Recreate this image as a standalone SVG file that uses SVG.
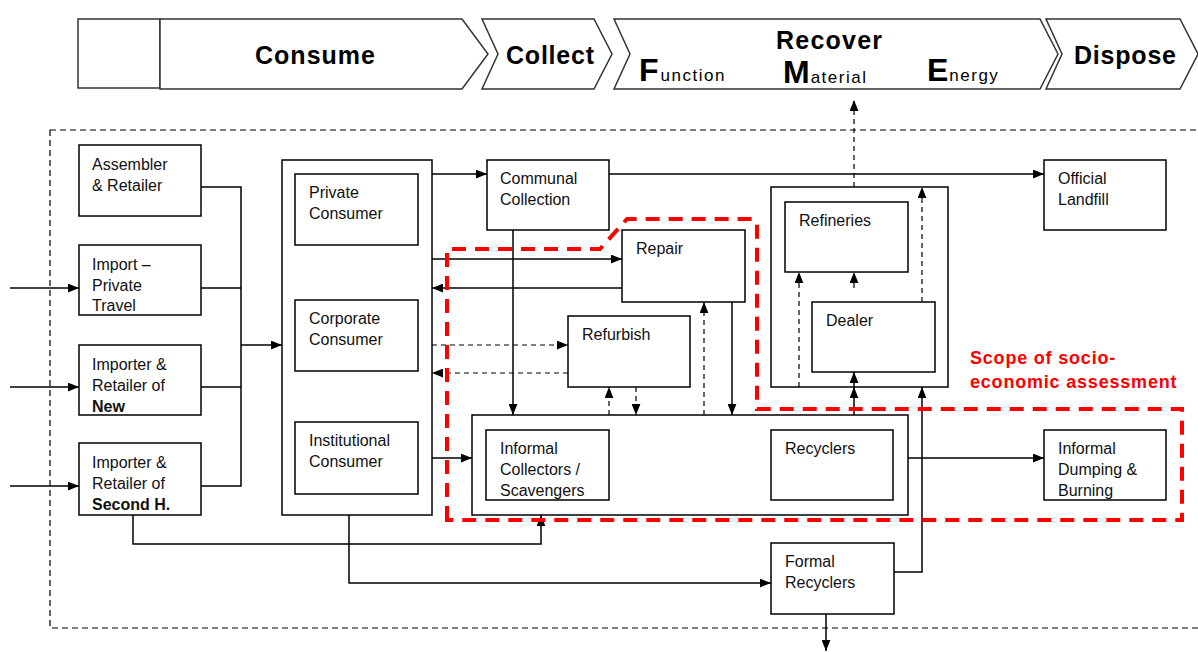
<svg xmlns="http://www.w3.org/2000/svg" width="1198" height="652" viewBox="0 0 1198 652">
<style>
.box{fill:#fff;stroke:#000;stroke-width:1.5}
.ban{fill:#fff;stroke:#333;stroke-width:1.5}
.t{font-family:"Liberation Sans",Arial,sans-serif;font-size:16px;fill:#111}
.b{font-weight:bold}
.bt{font-family:"Liberation Sans",Arial,sans-serif;font-weight:bold;font-size:25px;letter-spacing:2px;fill:#000}
.sm{font-family:"Liberation Sans",Arial,sans-serif;font-size:17px;letter-spacing:1.5px;fill:#000}
.big{font-family:"Liberation Sans",Arial,sans-serif;font-weight:900;font-size:32px;fill:#000}
.c{fill:none;stroke:#000;stroke-width:1.5}
.d{fill:none;stroke:#000;stroke-width:1.2;stroke-dasharray:5,4}
.red{fill:none;stroke:#f00;stroke-width:4;stroke-dasharray:14,9}
.rt{font-family:"Liberation Sans",Arial,sans-serif;font-weight:bold;font-size:18px;letter-spacing:0.8px;fill:#f00}
</style>
<defs>
<marker id="a" viewBox="0 0 10 8" refX="10" refY="4" markerWidth="11" markerHeight="9" markerUnits="userSpaceOnUse" orient="auto"><path d="M0,0 L10,4 L0,8 z" fill="#000"/></marker>
</defs>
<rect width="1198" height="652" fill="#fff"/>
<g id="banner">
<rect class="ban" x="78" y="19" width="82" height="69"/>
<polygon class="ban" points="160,19 462,19 488,54 462,89 160,89"/>
<polygon class="ban" points="482,19 594,19 612,54 594,89 482,89 498,54"/>
<polygon class="ban" points="614,19 1040,19 1058,54 1040,89 614,89 630,54"/>
<polygon class="ban" points="1046,19 1180,19 1198,54 1180,89 1046,89 1062,54"/>
<text class="bt" x="316" y="64" text-anchor="middle" textLength="122">Consume</text>
<text class="bt" x="551" y="64" text-anchor="middle" textLength="90">Collect</text>
<text class="bt" x="830" y="49" text-anchor="middle" textLength="108">Recover</text>
<text class="bt" x="1126" y="64" text-anchor="middle" textLength="104">Dispose</text>
<text x="639" y="81"><tspan class="big">F</tspan><tspan class="sm" dx="2">unction</tspan></text>
<text x="783" y="83"><tspan class="big">M</tspan><tspan class="sm" dx="1">aterial</tspan></text>
<text x="927" y="81"><tspan class="big">E</tspan><tspan class="sm" dx="1">nergy</tspan></text>
</g>
<rect x="50" y="130" width="1160" height="498" fill="none" stroke="#000" stroke-width="1.2" stroke-dasharray="6,4"/>
<g id="assembler"><rect class="box" x="79" y="145" width="122" height="71"/><text class="t" x="92" y="170">Assembler</text><text class="t" x="92" y="191">&amp; Retailer</text></g>
<g id="import-private"><rect class="box" x="79" y="245" width="122" height="70"/><text class="t" x="92" y="270">Import –</text><text class="t" x="92" y="291">Private</text><text class="t" x="92" y="311">Travel</text></g>
<g id="importer-new"><rect class="box" x="79" y="345" width="122" height="70"/><text class="t" x="92" y="370">Importer &amp;</text><text class="t" x="92" y="391">Retailer of</text><text class="t b" x="92" y="412">New</text></g>
<g id="importer-second"><rect class="box" x="79" y="443" width="122" height="72"/><text class="t" x="92" y="468">Importer &amp;</text><text class="t" x="92" y="489">Retailer of</text><text class="t b" x="92" y="510">Second H.</text></g>
<g id="consumers"><rect class="box" x="282" y="160" width="150" height="355"/></g>
<g id="private-consumer"><rect class="box" x="295" y="174" width="123" height="71"/><text class="t" x="309" y="198">Private</text><text class="t" x="309" y="219">Consumer</text></g>
<g id="corporate-consumer"><rect class="box" x="295" y="300" width="123" height="71"/><text class="t" x="309" y="324">Corporate</text><text class="t" x="309" y="345">Consumer</text></g>
<g id="institutional-consumer"><rect class="box" x="295" y="422" width="123" height="72"/><text class="t" x="309" y="446">Institutional</text><text class="t" x="309" y="467">Consumer</text></g>
<g id="communal"><rect class="box" x="487" y="160" width="122" height="70"/><text class="t" x="500" y="184">Communal</text><text class="t" x="500" y="205">Collection</text></g>
<g id="landfill"><rect class="box" x="1044" y="160" width="122" height="70"/><text class="t" x="1058" y="184">Official</text><text class="t" x="1058" y="205">Landfill</text></g>
<g id="repair"><rect class="box" x="622" y="230" width="123" height="72"/><text class="t" x="636" y="254">Repair</text></g>
<g id="refurbish"><rect class="box" x="568" y="316" width="122" height="71"/><text class="t" x="582" y="340">Refurbish</text></g>
<g id="material-recovery"><rect class="box" x="771" y="187" width="177" height="200"/></g>
<g id="refineries"><rect class="box" x="785" y="202" width="123" height="70"/><text class="t" x="799" y="226">Refineries</text></g>
<g id="dealer"><rect class="box" x="812" y="302" width="123" height="70"/><text class="t" x="826" y="326">Dealer</text></g>
<g id="informal-sector"><rect class="box" x="472" y="415" width="436" height="100"/></g>
<g id="informal-collectors"><rect class="box" x="486" y="430" width="123" height="70"/><text class="t" x="500" y="454">Informal</text><text class="t" x="500" y="475">Collectors /</text><text class="t" x="500" y="496">Scavengers</text></g>
<g id="recyclers"><rect class="box" x="771" y="430" width="122" height="70"/><text class="t" x="785" y="454">Recyclers</text></g>
<g id="informal-dumping"><rect class="box" x="1044" y="430" width="122" height="70"/><text class="t" x="1058" y="454">Informal</text><text class="t" x="1058" y="475">Dumping &amp;</text><text class="t" x="1058" y="496">Burning</text></g>
<g id="formal-recyclers"><rect class="box" x="771" y="543" width="123" height="71"/><text class="t" x="785" y="567">Formal</text><text class="t" x="785" y="588">Recyclers</text></g>
<g id="connectors">
<path class="c" d="M10,288 H79" marker-end="url(#a)"/>
<path class="c" d="M10,387 H79" marker-end="url(#a)"/>
<path class="c" d="M10,486 H79" marker-end="url(#a)"/>
<path class="c" d="M201,187 H241 V486 H201 M201,288 H241 M201,387 H241"/>
<path class="c" d="M241,345 H282" marker-end="url(#a)"/>
<path class="c" d="M432,174 H487" marker-end="url(#a)"/>
<path class="c" d="M609,174 H1044" marker-end="url(#a)"/>
<path class="c" d="M432,259 H622" marker-end="url(#a)"/>
<path class="c" d="M622,288 H432" marker-end="url(#a)"/>
<path class="c" d="M513,230 V415" marker-end="url(#a)"/>
<path class="c" d="M732,302 V415" marker-end="url(#a)"/>
<path class="c" d="M432,458 H472" marker-end="url(#a)"/>
<path class="c" d="M908,458 H1044" marker-end="url(#a)"/>
<path class="c" d="M133,515 V544 H541 V515" marker-end="url(#a)"/>
<path class="c" d="M349,515 V583 H771" marker-end="url(#a)"/>
<path class="c" d="M894,572 H922 V387" marker-end="url(#a)"/>
<path class="c" d="M854,415 V387" marker-end="url(#a)"/>
<path class="c" d="M854,387 V372" marker-end="url(#a)"/>
<path class="c" d="M826,614 V651" marker-end="url(#a)"/>
<path class="d" d="M432,345 H568" marker-end="url(#a)"/>
<path class="d" d="M568,373 H432" marker-end="url(#a)"/>
<path class="d" d="M609,415 V387" marker-end="url(#a)"/>
<path class="d" d="M636,387 V415" marker-end="url(#a)"/>
<path class="d" d="M704,415 V302" marker-end="url(#a)"/>
<path class="d" d="M799,387 V272" marker-end="url(#a)"/>
<path class="d" d="M854,288 V272" marker-end="url(#a)"/>
<path class="d" d="M922,302 V187" marker-end="url(#a)"/>
<path class="d" d="M854,187 V100" marker-end="url(#a)"/>
</g>
<g id="scope">
<path class="red" d="M447,520 V249 H600 L627,219 H752 Q757,219 757,224 V409 H1182 V520 Z"/>
<text class="rt" x="970" y="364">Scope of socio-</text>
<text class="rt" x="970" y="388">economic assessment</text>
</g>
</svg>
